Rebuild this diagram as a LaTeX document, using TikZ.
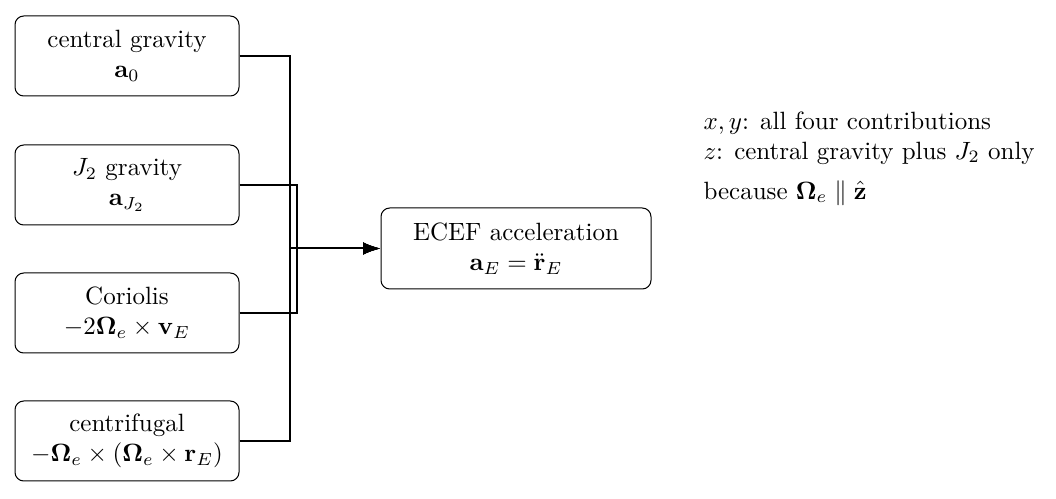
\documentclass[tikz,border=0pt]{standalone}
\usepackage{amsmath,amssymb,bm}
\usetikzlibrary{arrows.meta}
\begin{document}
\begin{tikzpicture}[x=0.40pt,y=-0.40pt,
  src/.style={draw,rounded corners=3.5pt,line width=0.4pt,minimum width=224*0.40pt,minimum height=80*0.40pt,align=center,inner sep=0pt},
  link/.style={line width=0.8pt,-{Latex[length=7pt,width=5pt]}}]
\useasboundingbox (0,0) rectangle (1056,499);
\node[src] (a0) at (127,56) {central gravity\\ $\mathbf{a}_0$};
\node[src] (aj) at (127,185) {$J_2$ gravity\\ $\mathbf{a}_{J_2}$};
\node[src] (cor) at (127,313) {Coriolis\\ $-2\boldsymbol{\Omega}_e\times\mathbf{v}_E$};
\node[src] (cen) at (127,441) {centrifugal\\ $-\boldsymbol{\Omega}_e\times(\boldsymbol{\Omega}_e\times\mathbf{r}_E)$};
\node[src,minimum width=270*0.40pt,minimum height=81*0.40pt] (acc) at (516,248.5) {ECEF acceleration\\ $\mathbf{a}_E=\ddot{\mathbf{r}}_E$};
\node[align=left,anchor=north west,inner sep=0pt] (note) at (703,111) {$x,y$: all four contributions\\ $z$: central gravity plus $J_2$ only\\[4pt] because $\boldsymbol{\Omega}_e\parallel\hat{\mathbf{z}}$};
\draw[link] (a0.east) -- ++(50,0) |- (acc.west);
\draw[link] (cen.east) -- ++(50,0) |- (acc.west);
\draw[link] (aj.east) -- ++(57,0) |- (acc.west);
\draw[link] (cor.east) -- ++(57,0) |- (acc.west);
\end{tikzpicture}
\end{document}
